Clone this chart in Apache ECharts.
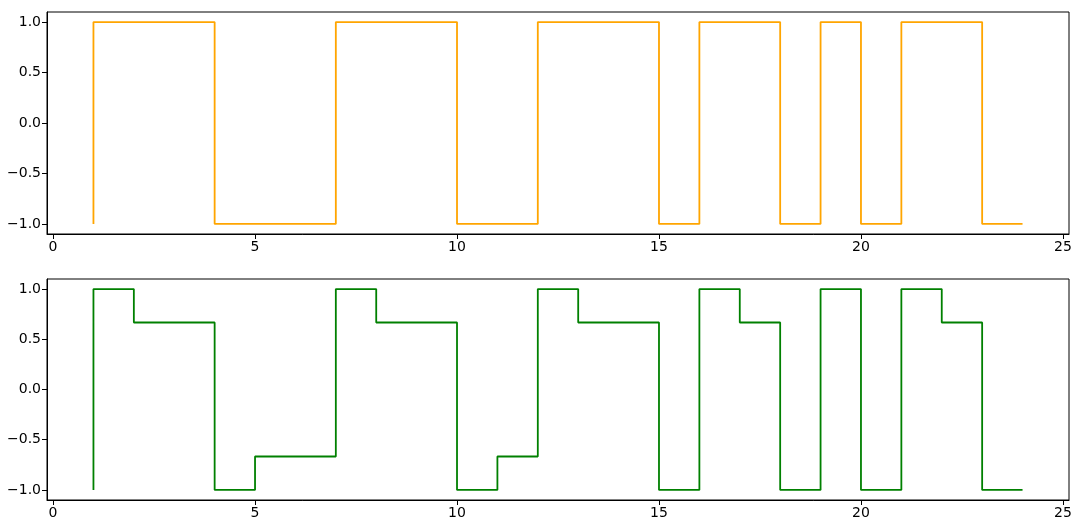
<!DOCTYPE html>
<html>
<head>
<meta charset="utf-8">
<script src="https://cdn.jsdelivr.net/npm/echarts@6/dist/echarts.min.js"></script>
<style>
html,body{margin:0;padding:0;background:#fff;}
#c{width:1080px;height:524px;}
</style>
</head>
<body>
<div id="c"></div>
<script>
const xValues = [1,2,3,4,5,6,7,8,9,10,11,12,13,14,15,16,17,18,19,20,21,22,23,24];
const topValues = [-1,1,1,1,-1,-1,-1,1,1,1,-1,-1,1,1,1,-1,1,1,-1,1,-1,1,1,-1];
const bottomValues = [-1,1,0.667,0.667,-1,-0.667,-0.667,1,0.667,0.667,-1,-0.667,1,0.667,0.667,-1,1,0.667,-1,1,-1,1,0.667,-1];
const xTicks = [0,5,10,15,20,25];
const yTicks = [-1,-0.5,0,0.5,1];

const font = 'DejaVu Sans';
function fmtY(v){
  const s = Math.abs(v).toFixed(1);
  return (v < -1e-9 ? '\u2212' : '') + s;
}
function xAxis(gi){
  return {
    type:'value', gridIndex:gi, min:-0.15, max:25.15, position:'bottom',
    axisLine:{show:true, onZero:false, lineStyle:{color:'#000', width:1}},
    splitLine:{show:false},
    axisTick:{show:true, inside:false, length:5, lineStyle:{color:'#000', width:1}, customValues:xTicks},
    axisLabel:{show:true, margin:6, color:'#000', fontFamily:font, fontSize:14, customValues:xTicks, formatter:(v)=>String(Math.round(v))}
  };
}
function yAxis(gi){
  return {
    type:'value', gridIndex:gi, min:-1.1, max:1.1, position:'left',
    axisLine:{show:true, onZero:false, lineStyle:{color:'#000', width:1}},
    splitLine:{show:false},
    axisTick:{show:true, inside:false, length:5, lineStyle:{color:'#000', width:1}, customValues:yTicks},
    axisLabel:{show:true, margin:6, color:'#000', fontFamily:font, fontSize:14, customValues:yTicks, formatter:fmtY}
  };
}
function pairs(ys){ return xValues.map((x,i)=>[x, ys[i]]); }

const chart = echarts.init(document.getElementById('c'), null, {renderer:'canvas'});
chart.setOption({
  animation:false,
  backgroundColor:'#fff',
  grid:[
    {left:47, top:12, width:1022, height:222, show:true, borderColor:'#000', borderWidth:1, backgroundColor:'transparent'},
    {left:47, top:279, width:1022, height:221, show:true, borderColor:'#000', borderWidth:1, backgroundColor:'transparent'}
  ],
  xAxis:[xAxis(0), xAxis(1)],
  yAxis:[yAxis(0), yAxis(1)],
  series:[
    {type:'line', xAxisIndex:0, yAxisIndex:0, step:'start', data:pairs(topValues), showSymbol:false, symbol:'none', lineStyle:{color:'#FFA500', width:1.8}, itemStyle:{color:'#FFA500'}},
    {type:'line', xAxisIndex:1, yAxisIndex:1, step:'start', data:pairs(bottomValues), showSymbol:false, symbol:'none', lineStyle:{color:'#008000', width:1.8}, itemStyle:{color:'#008000'}}
  ]
});
</script>
</body>
</html>
